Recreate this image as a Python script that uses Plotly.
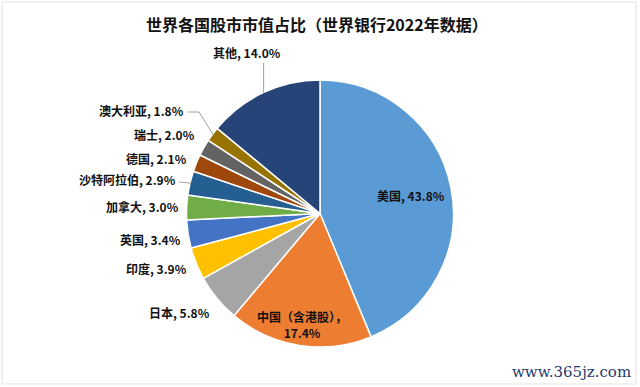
import math
import plotly.graph_objects as go

title = "世界各国股市市值占比（世界银行2022年数据）"
countries = ["美国", "中国（含港股）", "日本", "印度", "英国", "加拿大",
             "沙特阿拉伯", "德国", "瑞士", "澳大利亚", "其他"]
shares = [43.8, 17.4, 5.8, 3.9, 3.4, 3.0, 2.9, 2.1, 2.0, 1.8, 14.0]
colors = ["#5B9BD5", "#ED7D31", "#A5A5A5", "#FFC000", "#4472C4", "#70AD47",
          "#255E91", "#9E480E", "#636363", "#997300", "#264478"]
watermark = "www.365jz.com"

# ---- layout (pixels) ----
W, H = 640, 387
CX, CY, R = 320, 213.5, 133.5          # pie centre and radius
# label placement: (x, y, xanchor)
label_pos = [
    (411, 195, "center"),   # 美国
    (302, 324, "center"),   # 中国
    (212, 312, "right"),    # 日本
    (189, 268, "right"),    # 印度
    (183, 239, "right"),    # 英国
    (181, 207, "right"),    # 加拿大
    (178, 180, "right"),    # 沙特阿拉伯
    (189, 158, "right"),    # 德国
    (197, 135, "right"),    # 瑞士
    (186, 110, "right"),    # 澳大利亚
    (247, 53, "center"),    # 其他
]
# leader lines: label index -> intermediate points (pixels) before the slice edge
leaders = {
    6: [(179, 182)],
    9: [(188, 112), (199, 112)],
    10: [(None, 63)],
}

FONT = "Noto Sans CJK SC"
LABEL_FONT = dict(family=FONT, size=12, color="#111111", weight="bold")

fig = go.Figure(go.Pie(
    labels=countries,
    values=shares,
    sort=False,
    direction="clockwise",
    rotation=0,
    automargin=False,
    marker=dict(colors=colors, line=dict(color="white", width=1.5)),
    textinfo="none",
    domain=dict(x=[0, 1], y=[(H - CY - R) / H, (H - CY + R) / H]),
    showlegend=False,
    hoverinfo="label+percent",
))

total = sum(shares)
annotations = []
shapes = []
cum = 0.0
for i, (name, val, (lx, ly, anc)) in enumerate(zip(countries, shares, label_pos)):
    mid = (cum + val / 2) / total * 2 * math.pi
    cum += val
    if name.startswith("中国"):
        text = f"{name}，<br>{val:.1f}%"
    else:
        text = f"{name}, {val:.1f}%"
    annotations.append(dict(
        text=text, xref="paper", yref="paper", x=lx / W, y=1 - ly / H,
        xanchor=anc, yanchor="middle", showarrow=False, font=LABEL_FONT,
        align="center"))
    if i in leaders:
        tx = CX + (R - 1) * math.sin(mid)
        ty = CY - (R - 1) * math.cos(mid)
        pts = [(tx if px is None else px, py) for px, py in leaders[i]] + [(tx, ty)]
        path = "M " + " L ".join(f"{px / W:.5f},{1 - py / H:.5f}" for px, py in pts)
        shapes.append(dict(type="path", xref="paper", yref="paper", path=path,
                           line=dict(color="#A0A0A0", width=1)))

annotations.append(dict(text=watermark, xref="paper", yref="paper",
                        x=633 / W, y=1 - 372 / H, xanchor="right", yanchor="middle",
                        showarrow=False,
                        font=dict(family="DejaVu Serif", size=15, color="#1F3A6E")))

shapes.append(dict(type="rect", xref="paper", yref="paper", x0=2 / W, y0=1 - 384 / H,
                   x1=636 / W, y1=1 - 2 / H, line=dict(color="#E2E2E2", width=1)))

fig.update_layout(
    width=W, height=H,
    autosize=False,
    margin=dict(l=0, r=0, t=0, b=0, autoexpand=False),
    paper_bgcolor="white",
    title=dict(text=title, x=0.495, xanchor="center", y=1 - 25 / H, yanchor="middle",
               font=dict(family=FONT, size=16, color="#111111", weight="bold")),
    annotations=annotations,
    shapes=shapes,
)

fig.write_html("out.html", config={"displayModeBar": False},
               post_script="document.body.style.margin='0';")
